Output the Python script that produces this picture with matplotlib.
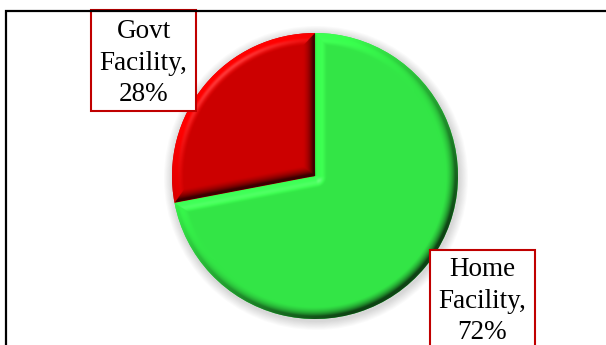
import numpy as np
import matplotlib
matplotlib.use("Agg")
import matplotlib.pyplot as plt
from matplotlib.patches import Rectangle, Circle
from matplotlib.colors import to_rgb

# Share of deliveries by place
categories = ["Home Facility", "Govt Facility"]
shares = [72, 28]
colors = ["#33E646", "#CC0000"]

W, H = 606, 345
fig = plt.figure(figsize=(W / 100, H / 100), dpi=100)
ax = fig.add_axes([0, 0, 1, 1])

cx, cy, R = 315, 169, 143

# soft drop shadow under the pie
for k in range(10):
    ax.add_patch(Circle((cx + 1, cy - 2), R + 1 + k * 0.9, color="#000000",
                        alpha=0.016, lw=0, zorder=0))

wedges, _ = ax.pie(shares, colors=colors, startangle=90, counterclock=False,
                   center=(cx, cy), radius=R, frame=True,
                   wedgeprops=dict(linewidth=0))
ax.set_xlim(0, W)
ax.set_ylim(0, H)
ax.set_aspect("equal")
ax.axis("off")

light = np.array([-0.55, 0.65, 0.8])
light /= np.linalg.norm(light)
half = light + np.array([0, 0, 1.0])
half /= np.linalg.norm(half)


def bevel_image(wedge, base, width=0.085 * R, res=3):
    t1, t2 = np.radians(wedge.theta1), np.radians(wedge.theta2)
    span = t2 - t1
    n = int(2 * R * res)
    xs = np.linspace(cx - R, cx + R, n)
    ys = np.linspace(cy - R, cy + R, n)
    X, Y = np.meshgrid(xs, ys)
    dx, dy = X - cx, Y - cy
    rho = np.hypot(dx, dy)
    phi = np.arctan2(dy, dx)
    dphi = np.mod(phi - t1, 2 * np.pi)
    rem = span - dphi

    ux, uy = np.cos(phi), np.sin(phi)
    d_arc = R - rho
    near1 = dphi < np.pi / 2
    d1 = np.where(near1, rho * np.sin(dphi), rho)
    n1x = np.where(near1, np.sin(t1), -ux)
    n1y = np.where(near1, -np.cos(t1), -uy)
    near2 = (rem < np.pi / 2) & (rem >= 0)
    d2 = np.where(near2, rho * np.sin(rem), rho)
    n2x = np.where(near2, -np.sin(t2), -ux)
    n2y = np.where(near2, np.cos(t2), -uy)

    d = d_arc.copy()
    nx, ny = ux.copy(), uy.copy()
    smax = np.full_like(d, 0.72)
    m = d1 < d
    d[m], nx[m], ny[m], smax[m] = d1[m], n1x[m], n1y[m], 0.97
    m = d2 < d
    d[m], nx[m], ny[m], smax[m] = d2[m], n2x[m], n2y[m], 0.97

    s = np.clip(1 - d / width, 0, 1) ** 1.3
    s = np.minimum(s, smax)
    nz = np.sqrt(1 - s ** 2)
    Nx, Ny = nx * s, ny * s
    ndl = Nx * light[0] + Ny * light[1] + nz * light[2]
    amb = 0.22
    diff = (amb + (1 - amb) * np.clip(ndl, 0, None)) / (amb + (1 - amb) * light[2])
    spec = np.clip(Nx * half[0] + Ny * half[1] + nz * half[2], 0, None) ** 40
    spec -= (half[2]) ** 40
    spec = np.clip(spec, 0, None) * 0.22

    rgb = np.array(to_rgb(base))[None, None, :] * diff[..., None]
    rgb = np.clip(rgb, 0, 1)
    rgb = rgb + (1 - rgb) * spec[..., None]
    return rgb


for wedge, col in zip(wedges, colors):
    img = bevel_image(wedge, col)
    im = ax.imshow(img, origin="lower", extent=(cx - R, cx + R, cy - R, cy + R),
                   interpolation="antialiased", zorder=2)
    im.set_clip_path(wedge)

ax.set_xlim(0, W)
ax.set_ylim(0, H)


def label_text(name, value):
    return name.replace(" ", "\n") + ",\n" + f"{value}%"


box_color = "#C00000"
font = dict(family="Liberation Serif", size=19.5, color="#000000")

# label boxes: (left, bottom, width, height) and text centre
boxes = {
    "Home Facility": ((430, -10, 105, 105), (482.5, 44)),
    "Govt Facility": ((91, 234, 105, 101), (143.5, 282)),
}
for name, val in zip(categories, shares):
    (bx, by, bw, bh), (tx, ty) = boxes[name]
    ax.add_patch(Rectangle((bx, by), bw, bh, facecolor="white",
                           edgecolor=box_color, lw=1.5, zorder=5))
    ax.text(tx, ty, label_text(name, val), ha="center", va="center",
            linespacing=1.36, zorder=6, **font)

# outer chart border
ax.add_patch(Rectangle((5.8, -10), 700, 344, facecolor="none",
                       edgecolor="#000000", lw=1.6, zorder=7, clip_on=False))

fig.savefig("out.png", dpi=100)
